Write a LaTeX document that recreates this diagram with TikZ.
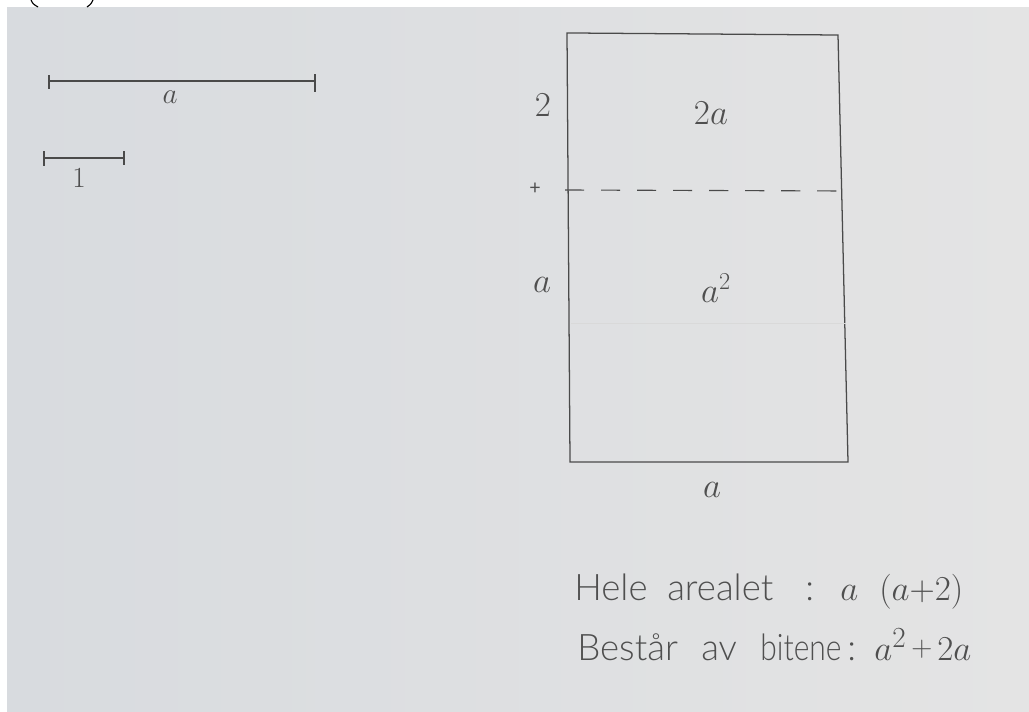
\documentclass[tikz,border=0pt]{standalone}
\usepackage{fontspec}
\setmainfont{Lato}
\newfontfamily\handfont{Lato Light}
\usetikzlibrary{calc}
\definecolor{paperL}{HTML}{D8DBDF}
\definecolor{paperR}{HTML}{E4E4E4}
\definecolor{ink}{HTML}{4A4A4A}
\definecolor{inktext}{HTML}{4F4F4F}
\tikzset{
  pen/.style={draw=ink, line width=0.9pt},
  faint/.style={draw=white!70!gray, line width=0.6pt},
  dashline/.style={draw=ink, line width=0.8pt, dash pattern=on 0.48cm off 0.42cm},
  lbl/.style={text=inktext, inner sep=0pt, font=\fontsize{25}{29}\selectfont},
  lblsmall/.style={text=inktext, inner sep=0pt, font=\fontsize{20}{24}\selectfont},
  note/.style={text=inktext, inner sep=0pt, anchor=base west, font=\handfont\fontsize{26}{32}\selectfont},
  notemath/.style={text=inktext, inner sep=0pt, anchor=base west, font=\fontsize{28}{32}\selectfont},
}
\begin{document}
\begin{tikzpicture}[x=0.025cm, y=-0.025cm]
\useasboundingbox (0,0) rectangle (1029,711);
\fill[white] (0,0) rectangle (1029,711);
\shade[left color=paperL, right color=paperR] (7,7) rectangle (1029,711);
% cut-off parentheses at the top edge
\draw[black, line width=0.8pt] (31,0) .. controls (33,4) .. (38,7);
\draw[black, line width=0.8pt] (93,0) .. controls (91,4) .. (87,7);

% segment a
\coordinate (sa1) at (49,81);
\coordinate (sa2) at (315,81);
\draw[pen] (sa1) -- (sa2);
\draw[pen] ($(sa1)+(0,-6)$) -- ($(sa1)+(0,8)$);
\draw[pen] ($(sa2)+(0,-7)$) -- ($(sa2)+(0,11)$);
\node[lblsmall] (la) at (170,97) {$a$};

% segment 1
\coordinate (s11) at (44,158);
\coordinate (s12) at (124,158);
\draw[pen] (s11) -- (s12);
\draw[pen] ($(s11)+(0,-7)$) -- ($(s11)+(0,8)$);
\draw[pen] ($(s12)+(0,-7)$) -- ($(s12)+(0,7)$);
\node[lblsmall] (l1) at (79,178) {$1$};

% rectangle
\coordinate (tl) at (573,33);
\coordinate (tr) at (838,35);
\coordinate (br) at (848,462);
\coordinate (bl) at (570,462);
\draw[pen] (567,33) -- (tl) -- (tr) -- (br) -- (bl) -- cycle;
% faint line
\draw[faint] (571,323) -- (846,323);
% dashed line
\coordinate (d1) at (565,190);
\coordinate (d2) at (850,191);
\draw[dashline] (d1) -- (d2);
\node[text=inktext, inner sep=0pt, font=\fontsize{14}{16}\selectfont] (plus) at (535,189) {+};

% labels
\node[lbl] (l2) at (543,105) {$2$};
\node[lbl] (l2a) at (711,113) {$2a$};
\node[lbl] (lal) at (542,285) {$a$};
\node[lbl] (la2) at (716,288) {$a^2$};
\node[lbl] (lab) at (712,490) {$a$};

% notes, line 1
\node[note] (h1) at (574,600) {Hele};
\node[note] (h1b) at (667,600) {arealet};
\node[note] (h2) at (805,600) {:};
\node[notemath] (h3) at (840,600) {$a$};
\node[notemath] (h4) at (879,600) {$(a{+}2)$};
% notes, line 2
\node[note] (b1) at (577,660) {Består};
\node[note] (b1b) at (701,660) {av};
\node[note] (b1c) at (760,660) {\scalebox{0.82}[1]{bitene}};
\node[note] (b2) at (847,660) {:};
\node[notemath] (b3) at (874,660) {$a^2$};
\node[notemath, font=\fontsize{20}{24}\selectfont] (b4) at (911,656) {$+$};
\node[notemath, font=\fontsize{30}{34}\selectfont] (b5) at (937,660) {$2a$};
\end{tikzpicture}
\end{document}
